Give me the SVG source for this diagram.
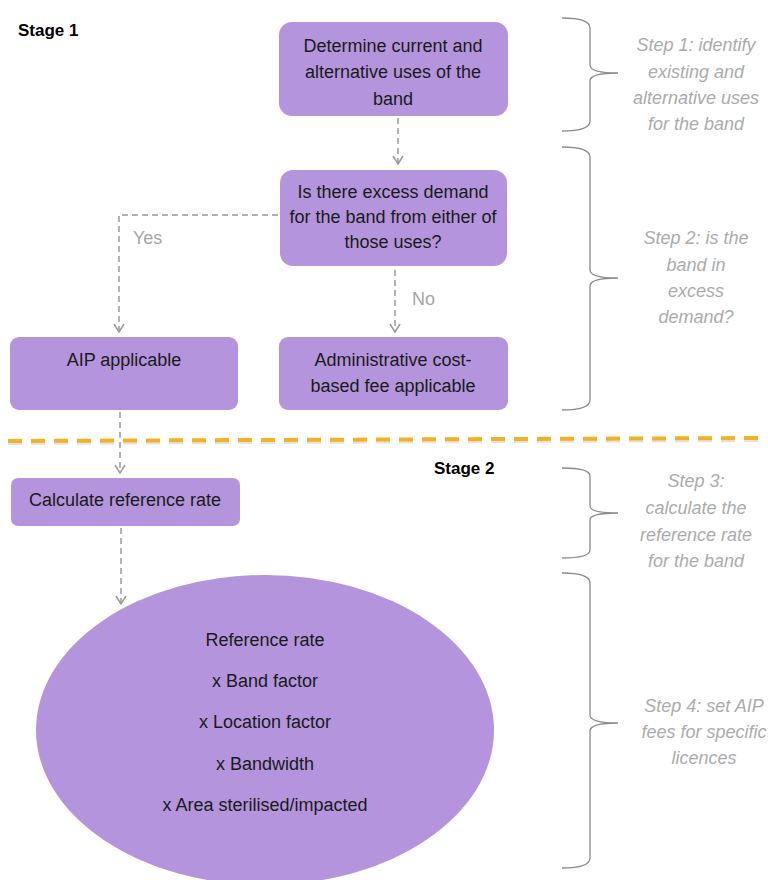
<svg xmlns="http://www.w3.org/2000/svg" width="768" height="880" viewBox="0 0 768 880">
<style>
.box{fill:#B495DD;}
.t{font-family:"Liberation Sans",Arial,sans-serif;font-size:18px;fill:#1a1a1a;text-anchor:middle;}
.stage{font-family:"Liberation Sans",Arial,sans-serif;font-size:17px;font-weight:bold;fill:#000;}
.step{font-family:"Liberation Sans",Arial,sans-serif;font-size:18px;font-style:italic;fill:#ababab;text-anchor:middle;}
.lbl{font-family:"Liberation Sans",Arial,sans-serif;font-size:18px;fill:#a6a6a6;}
.con{fill:none;stroke:#9a9a9a;stroke-width:1.5;stroke-dasharray:6,4;}
.brace{fill:none;stroke:#8c8c8c;stroke-width:1.3;}
</style>
<defs>
<marker id="arr" viewBox="0 0 10 12" refX="9" refY="6" markerWidth="10" markerHeight="12" markerUnits="userSpaceOnUse" orient="auto">
<path d="M1,1 L9,6 L1,11" fill="none" stroke="#9a9a9a" stroke-width="1.5"/>
</marker>
</defs>
<rect width="768" height="880" fill="#fff"/>
<text class="stage" x="18" y="36">Stage 1</text>
<text class="stage" x="434" y="474">Stage 2</text>
<line x1="8" y1="441" x2="764" y2="438" stroke="#c8c8c8" stroke-width="4" stroke-dasharray="14,9" transform="translate(0,2)" opacity="0.5"/>
<line x1="8" y1="441" x2="764" y2="438" stroke="#F4B223" stroke-width="4" stroke-dasharray="14,9"/>
<g id="connectors">
<path class="con" d="M398,118 L398,164" marker-end="url(#arr)"/>
<path class="con" d="M278,215 L119,215 L119,332" marker-end="url(#arr)"/>
<path class="con" d="M395,270 L395,332" marker-end="url(#arr)"/>
<path class="con" d="M120,412 L120,473" marker-end="url(#arr)"/>
<path class="con" d="M121,528 L121,604" marker-end="url(#arr)"/>
<text class="lbl" x="133" y="244">Yes</text>
<text class="lbl" x="412" y="305">No</text>
</g>
<g id="n1">
<rect class="box" x="279" y="22" width="229" height="94" rx="13"/>
<text class="t" x="393" y="52">Determine current and</text>
<text class="t" x="393" y="78">alternative uses of the</text>
<text class="t" x="393" y="105">band</text>
</g>
<g id="n2">
<rect class="box" x="280" y="170" width="227" height="96" rx="13"/>
<text class="t" x="393" y="198">Is there excess demand</text>
<text class="t" x="393" y="223">for the band from either of</text>
<text class="t" x="393" y="248">those uses?</text>
</g>
<g id="n3">
<rect class="box" x="10" y="337" width="228" height="73" rx="9"/>
<text class="t" x="124" y="366">AIP applicable</text>
</g>
<g id="n4">
<rect class="box" x="279" y="337" width="229" height="73" rx="9"/>
<text class="t" x="393" y="366">Administrative cost-</text>
<text class="t" x="393" y="392">based fee applicable</text>
</g>
<g id="n5">
<rect class="box" x="11" y="478" width="229" height="48" rx="7"/>
<text class="t" x="125" y="506">Calculate reference rate</text>
</g>
<g id="n6">
<ellipse class="box" cx="265" cy="730" rx="229" ry="155"/>
<text class="t" x="265" y="646">Reference rate</text>
<text class="t" x="265" y="687">x Band factor</text>
<text class="t" x="265" y="728">x Location factor</text>
<text class="t" x="265" y="770">x Bandwidth</text>
<text class="t" x="265" y="811">x Area sterilised/impacted</text>
</g>
<g id="steps">
<path class="brace" d="M562,18 Q590,18 590,28 L590,65 Q590,73 618,73 Q590,73 590,81 L590,121 Q590,131 562,131"/>
<path class="brace" d="M562,147 Q590,147 590,157 L590,270 Q590,278 618,278 Q590,278 590,286 L590,400 Q590,410 562,410"/>
<path class="brace" d="M562,468 Q590,468 590,476 L590,506 Q590,513 618,513 Q590,513 590,520 L590,550 Q590,558 562,558"/>
<path class="brace" d="M562,573 Q590,573 590,583 L590,715 Q590,723 618,723 Q590,723 590,731 L590,858 Q590,868 562,868"/>
<text class="step" x="696" y="51">Step 1: identify</text>
<text class="step" x="696" y="78">existing and</text>
<text class="step" x="696" y="104">alternative uses</text>
<text class="step" x="696" y="130">for the band</text>
<text class="step" x="696" y="244">Step 2: is the</text>
<text class="step" x="696" y="271">band in</text>
<text class="step" x="696" y="297">excess</text>
<text class="step" x="696" y="323">demand?</text>
<text class="step" x="696" y="487">Step 3:</text>
<text class="step" x="696" y="514">calculate the</text>
<text class="step" x="696" y="541">reference rate</text>
<text class="step" x="696" y="567">for the band</text>
<text class="step" x="704" y="712">Step 4: set AIP</text>
<text class="step" x="704" y="738">fees for specific</text>
<text class="step" x="704" y="764">licences</text>
</g>
</svg>
